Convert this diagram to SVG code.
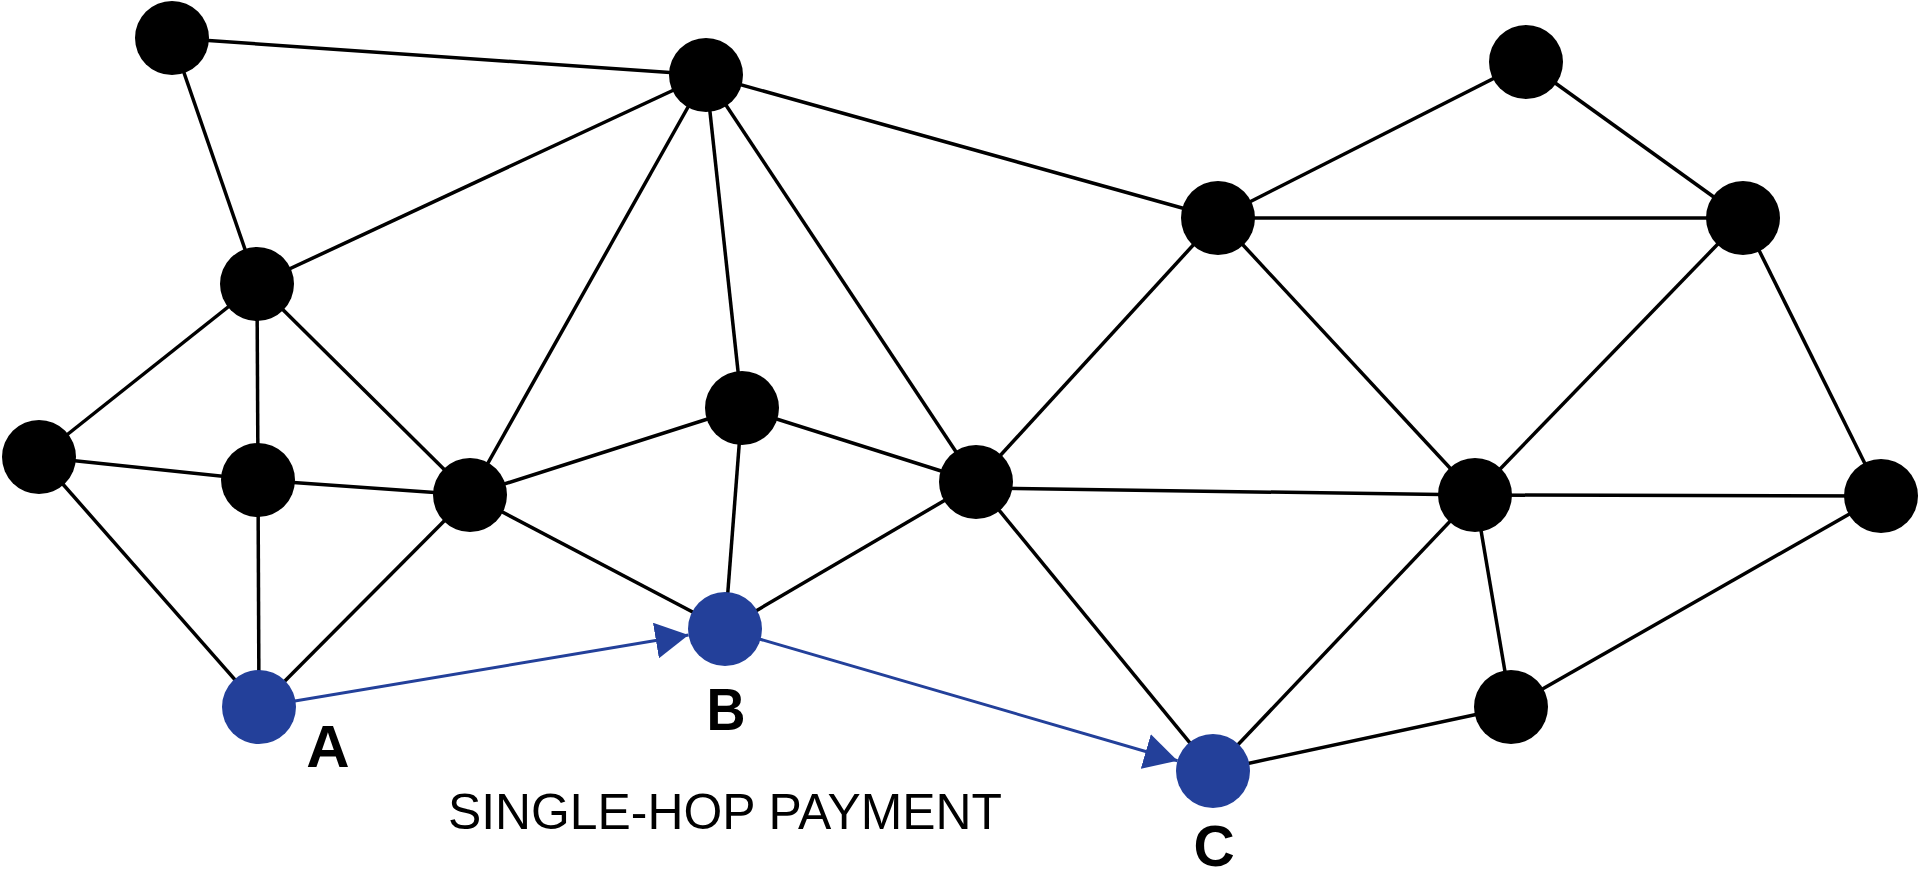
<svg xmlns="http://www.w3.org/2000/svg" width="1920" height="878" viewBox="0 0 1920 878">
<style>
.e{stroke:#000;stroke-width:3.5;fill:none}
.p{stroke:#23409A;stroke-width:3;fill:none}
.n{fill:#000}
.b{fill:#23409A}
.lbl{font-family:"Liberation Sans",Arial,sans-serif;font-weight:bold;font-size:60px;fill:#000;text-anchor:middle}
.cap{font-family:"Liberation Sans",Arial,sans-serif;font-size:50px;fill:#000}
</style>
<defs>
<marker id="arr" viewBox="0 0 33 36" refX="33" refY="18" markerWidth="33" markerHeight="36" markerUnits="userSpaceOnUse" orient="auto">
<path d="M0,0 L33,18 L0,36 z" fill="#23409A"/>
</marker>
</defs>
<rect width="1920" height="878" fill="#fff"/>
<g id="connectors">
<line class="e" x1="172" y1="38" x2="706" y2="75"/>
<line class="e" x1="172" y1="38" x2="257" y2="284"/>
<line class="e" x1="706" y1="75" x2="257" y2="284"/>
<line class="e" x1="706" y1="75" x2="470" y2="495"/>
<line class="e" x1="706" y1="75" x2="742" y2="408"/>
<line class="e" x1="706" y1="75" x2="976" y2="482"/>
<line class="e" x1="706" y1="75" x2="1218" y2="218"/>
<line class="e" x1="257" y1="284" x2="39" y2="457"/>
<line class="e" x1="257" y1="284" x2="258" y2="480"/>
<line class="e" x1="257" y1="284" x2="470" y2="495"/>
<line class="e" x1="39" y1="457" x2="258" y2="480"/>
<line class="e" x1="39" y1="457" x2="259" y2="707"/>
<line class="e" x1="258" y1="480" x2="470" y2="495"/>
<line class="e" x1="258" y1="480" x2="259" y2="707"/>
<line class="e" x1="470" y1="495" x2="259" y2="707"/>
<line class="e" x1="470" y1="495" x2="742" y2="408"/>
<line class="e" x1="470" y1="495" x2="725" y2="629"/>
<line class="e" x1="742" y1="408" x2="725" y2="629"/>
<line class="e" x1="742" y1="408" x2="976" y2="482"/>
<line class="e" x1="976" y1="482" x2="725" y2="629"/>
<line class="e" x1="976" y1="482" x2="1218" y2="218"/>
<line class="e" x1="976" y1="488" x2="1475" y2="495"/>
<line class="e" x1="976" y1="482" x2="1213" y2="771"/>
<line class="e" x1="1218" y1="218" x2="1526" y2="62"/>
<line class="e" x1="1218" y1="218" x2="1743" y2="218"/>
<line class="e" x1="1218" y1="218" x2="1475" y2="495"/>
<line class="e" x1="1526" y1="62" x2="1743" y2="218"/>
<line class="e" x1="1743" y1="218" x2="1475" y2="495"/>
<line class="e" x1="1743" y1="218" x2="1881" y2="496"/>
<line class="e" x1="1475" y1="495" x2="1881" y2="496"/>
<line class="e" x1="1475" y1="495" x2="1213" y2="771"/>
<line class="e" x1="1475" y1="495" x2="1511" y2="707"/>
<line class="e" x1="1511" y1="707" x2="1213" y2="771"/>
<line class="e" x1="1511" y1="707" x2="1881" y2="496"/>
<line class="p" x1="259" y1="707" x2="688.5" y2="635.1" marker-end="url(#arr)"/>
<line class="p" x1="725" y1="629" x2="1177.5" y2="760.7" marker-end="url(#arr)"/>
</g>
<g id="n1"><circle class="n" cx="172" cy="38" r="37"/></g>
<g id="n2"><circle class="n" cx="706" cy="75" r="37"/></g>
<g id="n3"><circle class="n" cx="1526" cy="62" r="37"/></g>
<g id="n4"><circle class="n" cx="257" cy="284" r="37"/></g>
<g id="n5"><circle class="n" cx="1218" cy="218" r="37"/></g>
<g id="n6"><circle class="n" cx="1743" cy="218" r="37"/></g>
<g id="n7"><circle class="n" cx="39" cy="457" r="37"/></g>
<g id="n8"><circle class="n" cx="258" cy="480" r="37"/></g>
<g id="n9"><circle class="n" cx="470" cy="495" r="37"/></g>
<g id="n10"><circle class="n" cx="742" cy="408" r="37"/></g>
<g id="n11"><circle class="n" cx="976" cy="482" r="37"/></g>
<g id="n12"><circle class="n" cx="1475" cy="495" r="37"/></g>
<g id="n13"><circle class="n" cx="1881" cy="496" r="37"/></g>
<g id="n17"><circle class="n" cx="1511" cy="707" r="37"/></g>
<g id="nodeA"><circle class="b" cx="259" cy="707" r="37"/><text class="lbl" x="328" y="767">A</text></g>
<g id="nodeB"><circle class="b" cx="725" cy="629" r="37"/><text class="lbl" x="726" y="730" textLength="39" lengthAdjust="spacingAndGlyphs">B</text></g>
<g id="nodeC"><circle class="b" cx="1213" cy="771" r="37"/><text class="lbl" x="1214" y="866" style="font-size:57px">C</text></g>
<g id="caption"><text class="cap" x="448" y="829" textLength="554" lengthAdjust="spacingAndGlyphs">SINGLE-HOP PAYMENT</text></g>
</svg>
